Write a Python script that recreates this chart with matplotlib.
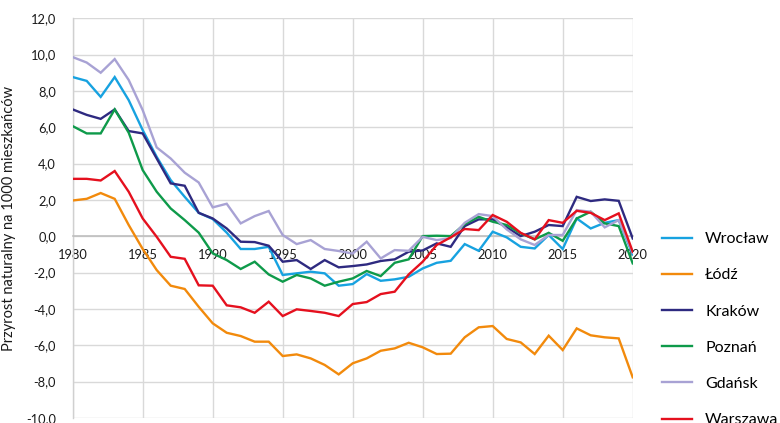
import matplotlib
matplotlib.use("Agg")
import matplotlib.pyplot as plt
from matplotlib.lines import Line2D

years = list(range(1980, 2021))

wroclaw = [8.76, 8.55, 7.67, 8.76, 7.49, 5.84, 4.37, 3.09, 2.17, 1.29,
           0.95, 0.20, -0.70, -0.70, -0.58, -2.13, -2.04, -1.95, -2.04, -2.72,
           -2.63, -2.08, -2.45, -2.37, -2.23, -1.77, -1.46, -1.35, -0.43, -0.80,
           0.25, -0.06, -0.58, -0.67, 0.07, -0.70, 0.98, 0.43, 0.74, 0.89, -1.00]
lodz = [1.97, 2.06, 2.38, 2.06, 0.62, -0.70, -1.86, -2.72, -2.90, -3.88,
        -4.79, -5.31, -5.49, -5.80, -5.80, -6.59, -6.50, -6.72, -7.08, -7.60,
        -6.99, -6.72, -6.30, -6.17, -5.86, -6.11, -6.48, -6.46, -5.56, -5.01,
        -4.94, -5.65, -5.84, -6.48, -5.47, -6.26, -5.07, -5.45, -5.56, -5.62, -7.76]
krakow = [6.98, 6.68, 6.46, 6.98, 5.79, 5.66, 4.28, 2.91, 2.78, 1.29,
          0.98, 0.43, -0.30, -0.32, -0.52, -1.40, -1.31, -1.80, -1.31, -1.71,
          -1.64, -1.55, -1.36, -1.27, -0.85, -0.78, -0.39, -0.58, 0.56, 0.93,
          0.93, 0.49, 0.01, 0.25, 0.62, 0.56, 2.17, 1.94, 2.03, 1.95, -0.12]
poznan = [6.06, 5.66, 5.66, 6.98, 5.70, 3.64, 2.45, 1.53, 0.89, 0.20,
          -0.94, -1.31, -1.80, -1.40, -2.10, -2.50, -2.13, -2.32, -2.72, -2.50,
          -2.32, -1.91, -2.19, -1.46, -1.27, 0.01, 0.03, 0.01, 0.67, 1.07,
          0.80, 0.62, 0.16, -0.17, 0.19, -0.25, 0.98, 1.35, 0.71, 0.56, -1.49]
gdansk = [9.86, 9.56, 9.00, 9.75, 8.60, 6.94, 4.89, 4.28, 3.50, 2.96,
          1.59, 1.79, 0.71, 1.11, 1.39, 0.07, -0.43, -0.21, -0.70, -0.81,
          -0.95, -0.30, -1.22, -0.76, -0.80, -0.03, -0.21, -0.10, 0.74, 1.22,
          1.11, 0.38, -0.17, -0.48, 0.07, 0.07, 1.44, 1.35, 0.49, 0.89, -0.90]
warszawa = [3.16, 3.16, 3.07, 3.59, 2.45, 0.98, -0.03, -1.13, -1.24, -2.70,
            -2.72, -3.80, -3.91, -4.21, -3.60, -4.39, -4.02, -4.11, -4.21, -4.39,
            -3.73, -3.62, -3.18, -3.05, -2.10, -1.40, -0.48, -0.06, 0.40, 0.34,
            1.17, 0.80, 0.19, -0.17, 0.89, 0.74, 1.40, 1.29, 0.89, 1.26, -0.85]

series_names = ["Wrocław", "Łódź", "Kraków", "Poznań", "Gdańsk", "Warszawa"]
series_values = [wroclaw, lodz, krakow, poznan, gdansk, warszawa]
series_colors = ["#17A2E0", "#F28A0C", "#2E2A80", "#0E9A4A", "#A8A2D4", "#E5101E"]

x_ticks = [1980, 1985, 1990, 1995, 2000, 2005, 2010, 2015, 2020]
y_ticks = [-10, -8, -6, -4, -2, 0, 2, 4, 6, 8, 10, 12]
y_tick_labels = ["-10,0", "-8,0", "-6,0", "-4,0", "-2,0", "0,0", "2,0", "4,0",
                 "6,0", "8,0", "10,0", "12,0"]
y_title = "Przyrost naturalny na 1000 mieszkańców"

plt.rcParams['font.family'] = ['Lato', 'DejaVu Sans']

fig = plt.figure(figsize=(7.8, 4.23), dpi=100)
ax = fig.add_axes([72.7 / 780, 1 - 418 / 423, (632.7 - 72.7) / 780, (418 - 18.2) / 423])

for name, vals, col in zip(series_names, series_values, series_colors):
    ax.plot(years, vals, color=col, lw=1.7, label=name, zorder=3,
            solid_joinstyle='miter')

ax.set_xlim(1980, 2020)
ax.set_ylim(-10, 12)
ax.set_xticks(x_ticks)
ax.set_xticklabels([str(v) for v in x_ticks])
ax.set_yticks(y_ticks)
ax.set_yticklabels(y_tick_labels)
ax.tick_params(axis='both', length=0, labelsize=9.3, labelcolor='#1a1a1a')
ax.tick_params(axis='x', pad=9)
ax.tick_params(axis='y', pad=12)

ax.set_axisbelow(True)
ax.grid(True, color='#d9d9d9', lw=1.0)
for s in ['top', 'right']:
    ax.spines[s].set_visible(False)
ax.spines['bottom'].set_position(('data', 0))
ax.spines['bottom'].set_color('#bfbfbf')
ax.spines['bottom'].set_linewidth(1.2)
ax.spines['bottom'].set_zorder(1)
ax.spines['left'].set_color('#d0d0d0')
ax.spines['left'].set_linewidth(1.0)
ax.spines['left'].set_zorder(1)

ax.set_ylabel(y_title, fontsize=10.5, color='#1a1a1a')
ax.yaxis.set_label_coords((16 - 72.7) / 560, 0.5)

handles = [Line2D([0], [0], color=c, lw=1.7) for c in series_colors]
ax.legend(handles, series_names, loc='upper left',
          bbox_to_anchor=(662 / 780, 1 - 232 / 423), bbox_transform=fig.transFigure,
          frameon=False, fontsize=11.5, handlelength=1.85, handletextpad=0.85,
          labelspacing=1.38, borderpad=0, borderaxespad=0)

fig.savefig("out.png", dpi=100)
